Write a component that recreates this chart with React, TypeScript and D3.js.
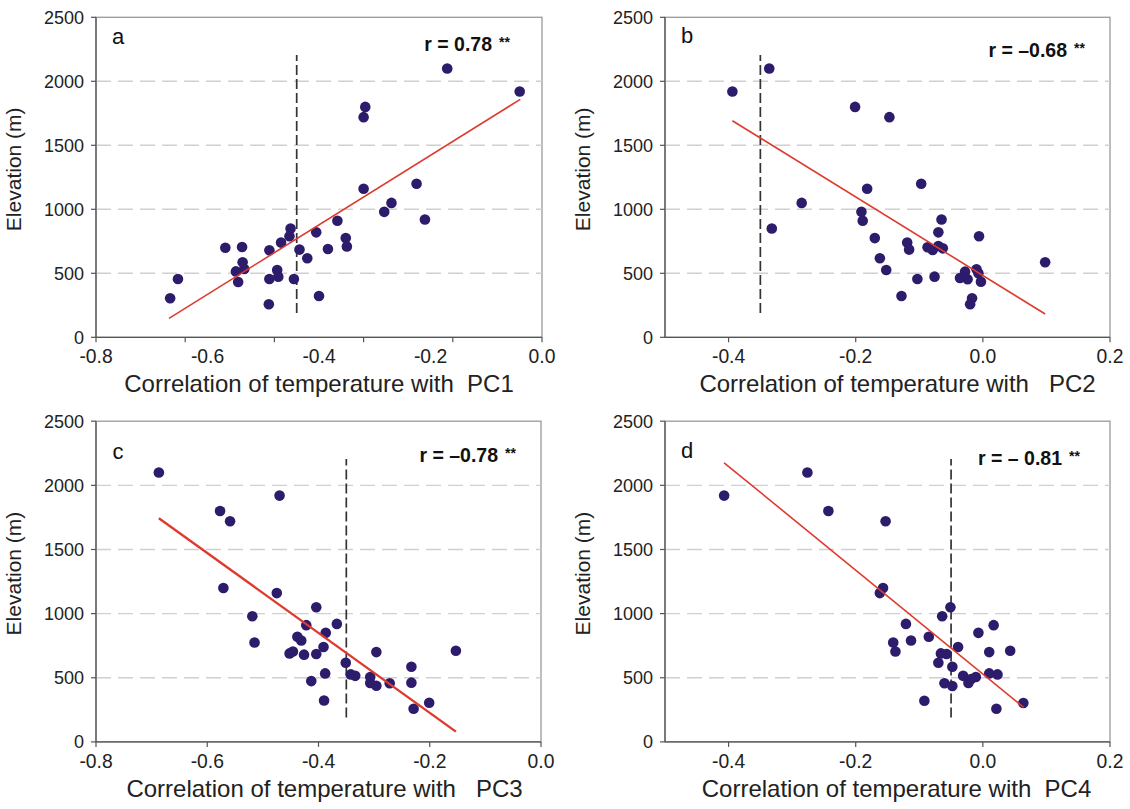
import React from 'react';
import * as d3 from 'd3';

// ---------- data ----------
const pc1X = [-0.17, -0.04, -0.317, -0.32, -0.32, -0.225, -0.27, -0.283, -0.21, -0.367, -0.451, -0.453, -0.405, -0.468, -0.352, -0.35, -0.384, -0.435, -0.421, -0.489, -0.568, -0.538, -0.537, -0.534, -0.549, -0.545, -0.475, -0.473, -0.489, -0.445, -0.49, -0.4, -0.653, -0.667];
const pc1Elev = [2100, 1920, 1800, 1720, 1160, 1200, 1050, 980, 920, 910, 850, 790, 820, 740, 775, 710, 690, 685, 617, 680, 700, 705, 586, 534, 515, 432, 526, 474, 455, 455, 258, 323, 455, 305];

const pc2X = [-0.394, -0.336, -0.201, -0.147, -0.097, -0.182, -0.285, -0.191, -0.189, -0.332, -0.065, -0.07, -0.006, -0.17, -0.119, -0.116, -0.087, -0.079, -0.07, -0.063, -0.162, -0.152, -0.103, -0.076, -0.128, -0.036, -0.028, -0.024, -0.01, -0.007, -0.003, -0.017, -0.02, 0.098];
const pc2Elev = [1920, 2100, 1800, 1720, 1200, 1160, 1050, 980, 910, 850, 920, 820, 790, 775, 740, 685, 703, 682, 713, 695, 617, 526, 455, 474, 323, 463, 513, 453, 531, 500, 434, 305, 258, 586];

const pc3X = [-0.687, -0.47, -0.577, -0.559, -0.571, -0.475, -0.404, -0.519, -0.367, -0.422, -0.387, -0.438, -0.431, -0.515, -0.391, -0.296, -0.153, -0.452, -0.446, -0.426, -0.404, -0.351, -0.233, -0.388, -0.342, -0.334, -0.307, -0.307, -0.296, -0.272, -0.233, -0.413, -0.39, -0.229, -0.201];
const pc3Elev = [2100, 1920, 1800, 1720, 1200, 1160, 1050, 980, 920, 910, 850, 820, 790, 775, 740, 700, 710, 690, 705, 680, 685, 617, 586, 534, 526, 515, 505, 459, 438, 457, 462, 474, 323, 258, 305];

const pc4X = [-0.407, -0.276, -0.243, -0.153, -0.157, -0.162, -0.051, -0.064, 0.017, -0.121, -0.007, -0.085, -0.141, -0.113, -0.1375, -0.039, 0.01, 0.043, -0.066, -0.057, -0.07, -0.048, 0.01, 0.023, -0.031, -0.011, -0.0185, -0.0227, -0.0604, -0.048, -0.092, 0.0213, 0.0637];
const pc4Elev = [1920, 2100, 1800, 1720, 1200, 1160, 1050, 980, 910, 920, 850, 820, 775, 790, 705, 740, 700, 710, 690, 685, 617, 586, 534, 526, 515, 506, 490, 460, 457, 436, 321, 259, 303];

// regression line end points [x, elevation]
const fitA = [[-0.669, 148], [-0.039, 1859]];
const fitB = [[-0.394, 1692], [0.098, 182]];
const fitC = [[-0.687, 1743], [-0.153, 80]];
const fitD = [[-0.407, 2176], [0.064, 270]];

// vertical dashed threshold lines
const thresholds = [-0.44, -0.35, -0.35, -0.05];
const thresholdSpan = [190, 2205];

const panelLetters = ['a', 'b', 'c', 'd'];
const rLabels = ['r = 0.78', 'r = \u20130.68', 'r = \u20130.78', 'r = \u2013 0.81'];
const xTitles = ['Correlation of temperature with  PC1', 'Correlation of temperature with   PC2', 'Correlation of temperature with   PC3', 'Correlation of temperature with  PC4'];

const yTicks = [0, 500, 1000, 1500, 2000, 2500];
const yGrid = [500, 1000, 1500, 2000];
const xTicksLeft = [-0.8, -0.6, -0.4, -0.2, 0.0];
const xTicksRight = [-0.4, -0.2, 0.0, 0.2];

// ---------- layout ----------
const panels = [
  { xs: pc1X, ys: pc1Elev, fit: fitA, domain: [-0.8, 0.0], ticks: xTicksLeft, tickMarks: 6, left: 96, right: 542, top: 17.3, bottom: 337.3, lw: 1.6, rEnd: 50, rBase: 50.5, letterBase: 44, titleShift: 0 },
  { xs: pc2X, ys: pc2Elev, fit: fitB, domain: [-0.5, 0.2], ticks: xTicksRight, tickMarks: 0, left: 665, right: 1110, top: 17.3, bottom: 337.3, lw: 1.6, rEnd: 43, rBase: 56.5, letterBase: 43, titleShift: 10 },
  { xs: pc3X, ys: pc3Elev, fit: fitC, domain: [-0.8, 0.0], ticks: xTicksLeft, tickMarks: 0, left: 96, right: 541, top: 421.2, bottom: 741.9, lw: 2.4, rEnd: 43, rBase: 461.5, letterBase: 459, titleShift: 6 },
  { xs: pc4X, ys: pc4Elev, fit: fitD, domain: [-0.5, 0.2], ticks: xTicksRight, tickMarks: 0, left: 665, right: 1110, top: 421.2, bottom: 741.9, lw: 1.6, rEnd: 48, rBase: 465, letterBase: 458, titleShift: 9 },
];

const FONT = 'Liberation Sans, Arial, sans-serif';
const DOT = '#2d1b6b';
const RED = '#de3a2e';

const fmt = (v: number) => (v < 0 ? '-' : '') + Math.abs(v).toFixed(1);

function Panel({ p, i }: { p: any; i: number }) {
  const x = d3.scaleLinear().domain(p.domain).range([p.left, p.right]);
  const y = d3.scaleLinear().domain([0, 2500]).range([p.bottom, p.top]);
  const line = d3.line<number[]>().x((d) => x(d[0])).y((d) => y(d[1]));
  const cx = (p.left + p.right) / 2 + p.titleShift;
  const cy = (p.top + p.bottom) / 2;
  const tickVals: number[] = p.tickMarks
    ? d3.range(p.tickMarks).map((k) => p.domain[0] + (k * (p.domain[1] - p.domain[0])) / (p.tickMarks - 1))
    : p.ticks;
  const rx = p.right - p.rEnd;
  return (
    <g>
      {/* frame */}
      <rect x={p.left} y={p.top} width={p.right - p.left} height={p.bottom - p.top} fill="white" stroke="#9a9a9a" strokeWidth={1.3} />
      {/* grid */}
      {yGrid.map((g) => (
        <line key={g} x1={p.left} x2={p.right} y1={y(g)} y2={y(g)} stroke="#d0d0d0" strokeWidth={1.4} strokeDasharray="15,7" />
      ))}
      {/* axes */}
      <line x1={p.left} x2={p.left} y1={p.top} y2={p.bottom} stroke="#555" strokeWidth={1.3} />
      <line x1={p.left} x2={p.right} y1={p.bottom} y2={p.bottom} stroke="#555" strokeWidth={1.3} />
      {yTicks.map((t) => (
        <g key={t}>
          <line x1={p.left - 5} x2={p.left} y1={y(t)} y2={y(t)} stroke="#555" strokeWidth={1.2} />
          <text x={p.left - 12} y={y(t)} dy="0.35em" textAnchor="end" fontSize={18} fontFamily={FONT} fill="#222">{t}</text>
        </g>
      ))}
      {tickVals.map((t, k) => (
        <line key={k} x1={x(t)} x2={x(t)} y1={p.bottom} y2={p.bottom + 5} stroke="#555" strokeWidth={1.2} />
      ))}
      {p.ticks.map((t: number) => (
        <text key={t} transform={`translate(${x(t)},${p.bottom + 26}) scale(0.92,1)`} textAnchor="middle" fontSize={21} fontFamily={FONT} fill="#222">{fmt(t)}</text>
      ))}
      {/* titles */}
      <text transform={`translate(${cx},${p.bottom + 55})`} textAnchor="middle" fontSize={24} fontFamily={FONT} fill="#222" style={{ whiteSpace: 'pre' }}>{xTitles[i]}</text>
      <text transform={`translate(${p.left - 75},${cy - 8}) rotate(-90)`} textAnchor="middle" fontSize={21} fontFamily={FONT} fill="#222">Elevation (m)</text>
      {/* threshold */}
      <line x1={x(thresholds[i])} x2={x(thresholds[i])} y1={y(thresholdSpan[0])} y2={y(thresholdSpan[1])} stroke="#333" strokeWidth={1.7} strokeDasharray="10,4" />
      {/* points */}
      {p.xs.map((v: number, k: number) => (
        <circle key={k} cx={x(v)} cy={y(p.ys[k])} r={5.3} fill={DOT} />
      ))}
      {/* fit */}
      <path d={line(p.fit) || ''} fill="none" stroke={RED} strokeWidth={p.lw} />
      {/* labels */}
      <text x={p.left + 22} y={p.letterBase} textAnchor="middle" fontSize={22} fontFamily={FONT} fill="#111">{panelLetters[i]}</text>
      <text x={rx} y={p.rBase} textAnchor="end" fontSize={19.5} fontWeight="bold" fontFamily={FONT} fill="#111">{rLabels[i]}</text>
      <text x={rx + 7} y={p.rBase - 4} textAnchor="start" fontSize={14} fontWeight="bold" fontFamily={FONT} fill="#111">**</text>
    </g>
  );
}

export default function App() {
  return (
    <svg width={1130} height={809} style={{ position: 'absolute', left: 0, top: 0, background: 'white' }}>
      <rect width={1130} height={809} fill="white" />
      {panels.map((p, i) => (
        <Panel key={i} p={p} i={i} />
      ))}
    </svg>
  );
}
